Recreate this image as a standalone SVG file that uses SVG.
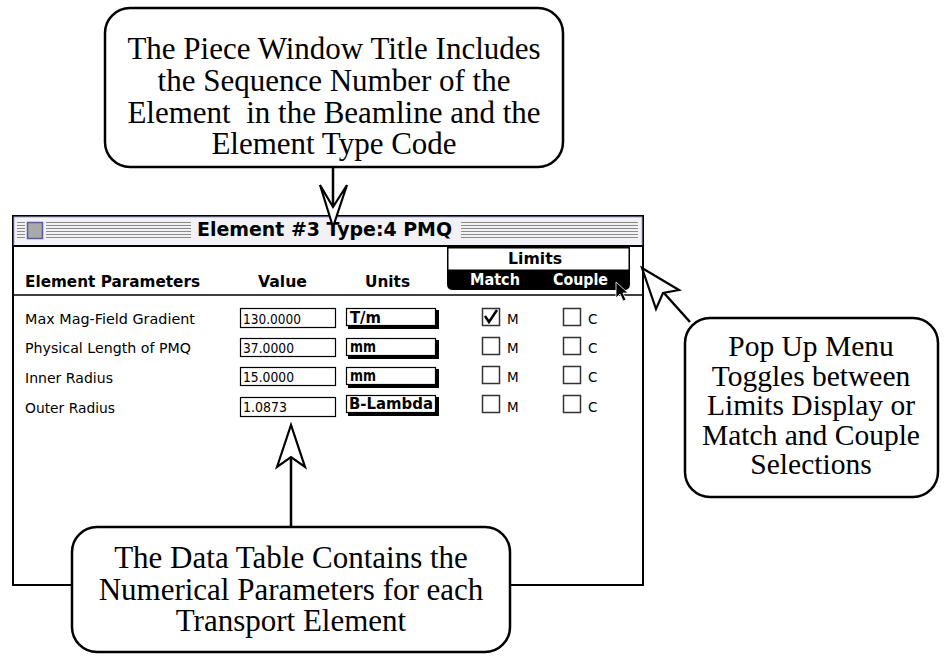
<svg xmlns="http://www.w3.org/2000/svg" width="944" height="656" viewBox="0 0 944 656">
  <style>
    .callout { fill: #fff; stroke: #000; stroke-width: 2.5; }
    .ctext { font-family: "Liberation Serif", "Times New Roman", serif; font-size: 31px; fill: #000; text-anchor: middle; }
    .ptext { font-family: "Liberation Serif", "Times New Roman", serif; font-size: 29.5px; fill: #000; text-anchor: middle; }
    .ui { font-family: "DejaVu Sans", "Liberation Sans", sans-serif; font-size: 13.5px; fill: #000; }
    .uib { font-family: "DejaVu Sans", "Liberation Sans", sans-serif; font-size: 15px; font-weight: bold; fill: #000; }
    .field { fill: #fff; stroke: #000; stroke-width: 1.2; }
    .unit { fill: #fff; stroke: #000; stroke-width: 1.2; }
    .shadow { fill: #000; }
    .chk { fill: #fff; stroke: #333; stroke-width: 1.5; }
    .stripe { stroke: #8a8a8a; stroke-width: 1; }
    .conn { fill: none; stroke: #000; stroke-width: 2.5; }
    .head { fill: #fff; stroke: #000; stroke-width: 2.2; stroke-linejoin: miter; }
  </style>

  <!-- Piece window -->
  <g id="window">
    <rect x="13" y="216" width="630" height="369" fill="#fff" stroke="#000" stroke-width="2"/>
    <!-- title bar -->
    <rect x="14" y="217" width="628" height="29" fill="#f1f1f6" stroke="#a8a8d0" stroke-width="1"/>
    <line x1="13" y1="246" x2="643" y2="246" stroke="#000" stroke-width="2"/>
    <g class="stripe">
      <path d="M17 222.5H25M17 225.5H25M17 228.5H25M17 231.5H25M17 234.5H25M17 237.5H25"/>
      <path d="M46 222.5H191M46 225.5H191M46 228.5H191M46 231.5H191M46 234.5H191M46 237.5H191"/>
      <path d="M461 222.5H638M461 225.5H638M461 228.5H638M461 231.5H638M461 234.5H638M461 237.5H638"/>
    </g>
    <rect x="27.5" y="222.5" width="15" height="16" fill="#a9a9a9" stroke="#5a5aa0" stroke-width="1.5"/>
    <text class="uib" x="197" y="236" style="font-size:19px" textLength="255" lengthAdjust="spacingAndGlyphs">Element #3 Type:4 PMQ</text>

    <!-- column headings -->
    <text class="uib" x="25" y="287" textLength="175" lengthAdjust="spacingAndGlyphs">Element Parameters</text>
    <text class="uib" x="258" y="287" textLength="49" lengthAdjust="spacingAndGlyphs">Value</text>
    <text class="uib" x="365" y="287" textLength="45" lengthAdjust="spacingAndGlyphs">Units</text>
    <line x1="13" y1="295" x2="643" y2="295" stroke="#000" stroke-width="1.5"/>

    <!-- Limits pop-up -->
    <g id="limits-popup">
      <path d="M447 247H630V284Q630 290 624 290H453Q447 290 447 284Z" fill="#000"/>
      <rect x="448.5" y="248.5" width="180" height="21" fill="#fff"/>
      <text class="uib" x="508" y="264" textLength="54" lengthAdjust="spacingAndGlyphs">Limits</text>
      <text class="uib" x="470" y="285" style="fill:#fff" textLength="50" lengthAdjust="spacingAndGlyphs">Match</text>
      <text class="uib" x="553" y="285" style="fill:#fff" textLength="55" lengthAdjust="spacingAndGlyphs">Couple</text>
      <!-- pointer -->
      <path d="M616 282L616 298L620 294L623 301L626 300L623 293L628 293Z" fill="#000" stroke="#fff" stroke-width="0.8"/>
    </g>

    <!-- parameter rows -->
    <g id="row1">
      <text class="ui" x="25" y="324" textLength="170" lengthAdjust="spacingAndGlyphs">Max Mag-Field Gradient</text>
      <rect class="field" x="240.5" y="308.5" width="95" height="19"/>
      <text class="ui" x="243" y="324" textLength="58" lengthAdjust="spacingAndGlyphs">130.0000</text>
      <rect class="shadow" x="348" y="310" width="91" height="19"/>
      <rect class="unit" x="346.5" y="308.5" width="89" height="17"/>
      <text class="uib" x="350" y="323" textLength="31" lengthAdjust="spacingAndGlyphs">T/m</text>
      <rect class="chk" x="482.5" y="308.5" width="17" height="17"/>
      <path d="M485 316L489 322L497 310" fill="none" stroke="#000" stroke-width="2.5"/>
      <text class="ui" x="507" y="324">M</text>
      <rect class="chk" x="563.5" y="308.5" width="17" height="17"/>
      <text class="ui" x="588" y="324">C</text>
    </g>
    <g id="row2">
      <text class="ui" x="25" y="353" textLength="166" lengthAdjust="spacingAndGlyphs">Physical Length of PMQ</text>
      <rect class="field" x="240.5" y="338.5" width="95" height="18"/>
      <text class="ui" x="243" y="353" textLength="51" lengthAdjust="spacingAndGlyphs">37.0000</text>
      <rect class="shadow" x="348" y="340" width="91" height="19"/>
      <rect class="unit" x="346.5" y="338.5" width="89" height="17"/>
      <text class="uib" x="350" y="352" textLength="26" lengthAdjust="spacingAndGlyphs">mm</text>
      <rect class="chk" x="482.5" y="337.5" width="17" height="17"/>
      <text class="ui" x="507" y="353">M</text>
      <rect class="chk" x="563.5" y="337.5" width="17" height="17"/>
      <text class="ui" x="588" y="353">C</text>
    </g>
    <g id="row3">
      <text class="ui" x="25" y="383" textLength="88" lengthAdjust="spacingAndGlyphs">Inner Radius</text>
      <rect class="field" x="240.5" y="367.5" width="95" height="18"/>
      <text class="ui" x="243" y="382" textLength="51" lengthAdjust="spacingAndGlyphs">15.0000</text>
      <rect class="shadow" x="348" y="369" width="91" height="19"/>
      <rect class="unit" x="346.5" y="367.5" width="89" height="17"/>
      <text class="uib" x="350" y="381" textLength="26" lengthAdjust="spacingAndGlyphs">mm</text>
      <rect class="chk" x="482.5" y="366.5" width="17" height="17"/>
      <text class="ui" x="507" y="382">M</text>
      <rect class="chk" x="563.5" y="366.5" width="17" height="17"/>
      <text class="ui" x="588" y="382">C</text>
    </g>
    <g id="row4">
      <text class="ui" x="25" y="413" textLength="90" lengthAdjust="spacingAndGlyphs">Outer Radius</text>
      <rect class="field" x="240.5" y="397.5" width="95" height="19"/>
      <text class="ui" x="243" y="412" textLength="44" lengthAdjust="spacingAndGlyphs">1.0873</text>
      <rect class="shadow" x="348" y="397" width="91" height="19"/>
      <rect class="unit" x="346.5" y="395.5" width="89" height="17"/>
      <text class="uib" x="349" y="409" textLength="84" lengthAdjust="spacingAndGlyphs">B-Lambda</text>
      <rect class="chk" x="482.5" y="395.5" width="17" height="17"/>
      <text class="ui" x="507" y="412">M</text>
      <rect class="chk" x="563.5" y="395.5" width="17" height="17"/>
      <text class="ui" x="588" y="412">C</text>
    </g>
  </g>

  <!-- connectors with open arrowheads -->
  <g id="connectors">
    <path class="conn" d="M333 167V205"/>
    <path class="head" d="M320 185L333 227L347 185L333 207Z"/>

    <path class="conn" d="M690 322L664 293"/>
    <path class="head" d="M642 268L679 290L663 293L656 309Z"/>

    <path class="conn" d="M291 527V458"/>
    <path class="head" d="M277 467L291 425L305 467L291 457Z"/>
  </g>

  <!-- callouts -->
  <g id="callout-title">
    <rect class="callout" x="105" y="8" width="458" height="159" rx="25"/>
    <text class="ctext" x="334" y="59">The Piece Window Title Includes</text>
    <text class="ctext" x="334" y="91">the Sequence Number of the</text>
    <text class="ctext" x="334" y="123" xml:space="preserve">Element  in the Beamline and the</text>
    <text class="ctext" x="334" y="154">Element Type Code</text>
  </g>

  <g id="callout-popup">
    <rect class="callout" x="685" y="318" width="253" height="179" rx="25"/>
    <text class="ptext" x="811" y="356">Pop Up Menu</text>
    <text class="ptext" x="811" y="385.5">Toggles between</text>
    <text class="ptext" x="811" y="415">Limits Display or</text>
    <text class="ptext" x="811" y="444.5">Match and Couple</text>
    <text class="ptext" x="811" y="474">Selections</text>
  </g>

  <g id="callout-table">
    <rect class="callout" x="72" y="527" width="438" height="125" rx="25"/>
    <text class="ctext" x="291" y="568">The Data Table Contains the</text>
    <text class="ctext" x="291" y="600">Numerical Parameters for each</text>
    <text class="ctext" x="291" y="631">Transport Element</text>
  </g>
</svg>
